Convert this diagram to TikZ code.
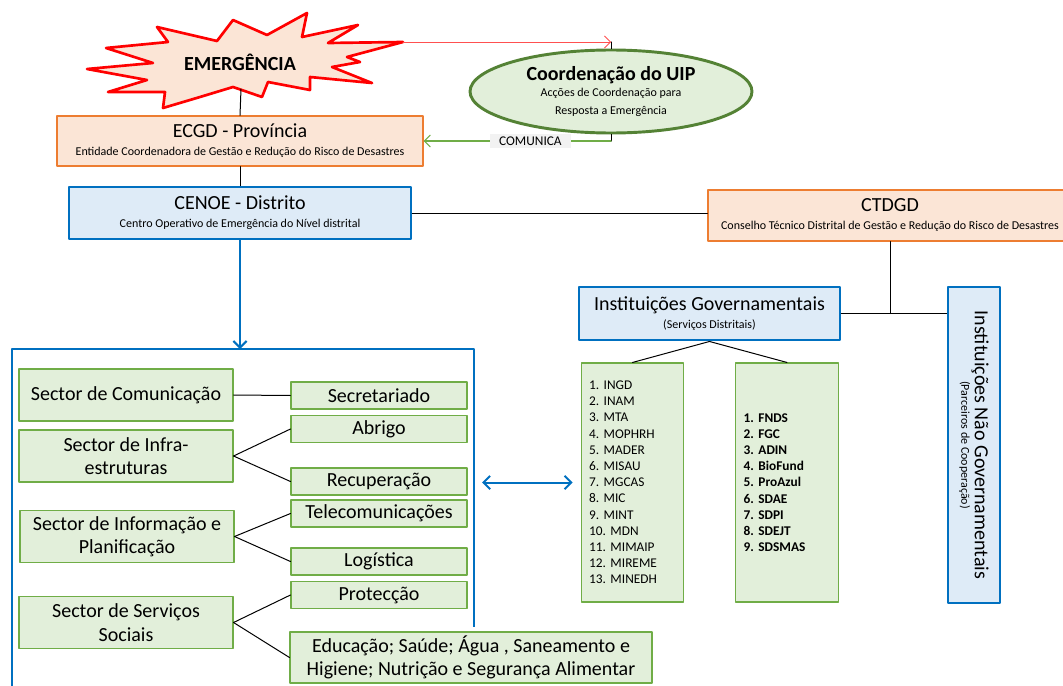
\documentclass[tikz,border=0pt]{standalone}
\usepackage{fontspec}
\setmainfont{Carlito}
\usepackage{xcolor}
\usepackage{tikz}
\usetikzlibrary{shapes,arrows.meta,calc}
\definecolor{peach}{HTML}{FBE5D6}
\definecolor{orangeline}{HTML}{ED7D31}
\definecolor{skyfill}{HTML}{DEEBF7}
\definecolor{blueline}{HTML}{0070C0}
\definecolor{leaf}{HTML}{E2EFDA}
\definecolor{leafline}{HTML}{70AD47}
\definecolor{darkleaf}{HTML}{548235}
\definecolor{lightred}{HTML}{FF5050}
\definecolor{labelgray}{HTML}{F2F2F2}
\frenchspacing
\newcommand{\bigtxt}{\fontsize{15}{18}\selectfont}
\newcommand{\smalltxt}{\fontsize{9}{11}\selectfont}
\tikzset{
  pbox/.style={draw=orangeline, fill=peach, line width=0.8pt, align=center, inner sep=0pt},
  bbox/.style={draw=blueline, fill=skyfill, line width=2.2pt, align=center, inner sep=0pt},
  gbox/.style={draw=leafline, fill=leaf, line width=0.8pt, align=center, inner sep=0pt,
    font=\fontsize{15}{17.5}\selectfont},
  sectorbox/.style={gbox, minimum width=160.5pt, minimum height=39pt},
  unitbox/.style={gbox, minimum width=132pt, minimum height=20.25pt},
  listbox/.style={draw=leafline, fill=leaf, line width=0.8pt, align=left, inner xsep=6pt,
    text width=65pt, minimum height=179.25pt, font=\fontsize{10}{12.15}\selectfont\frenchspacing},
  link/.style={draw=black, line width=0.75pt},
  bluearrow/.style={draw=blueline, line width=1.5pt, -{Straight Barb[length=5pt,width=10pt]}},
}
\begin{document}
\begin{tikzpicture}[line cap=round,line join=round,x=0.75pt,y=-0.75pt]
\clip (0,0) rectangle (1063,685);
\filldraw[draw=red, fill=peach, line width=2pt] (87,69) -- (153,63) -- (106,48) -- (168,42) -- (157,27) -- (217,41) -- (233,20) -- (267,35) -- (307,13) -- (302,37) -- (358,25) -- (328,43) -- (403,42) -- (347,57) -- (360,62) -- (332,67) -- (372,83) -- (310,77) -- (310,90) -- (268,82) -- (262,97) -- (233,87) -- (200,97) -- (163,108) -- (165,92) -- (108,92) -- (147,80) -- cycle;
\node[font=\bigtxt\bfseries] (emerg) at (240,62) {EMERGÊNCIA};
\coordinate (starbot) at (241,89);
\coordinate (startip) at (403,42);
\node[ellipse, draw=darkleaf, fill=leaf, line width=2.2pt, minimum width=211.5pt, minimum height=62.25pt, inner sep=0pt, align=center] (uip) at (611,91.5)
  {{\bigtxt\bfseries Coordenação do UIP}\\[0pt]{\smalltxt Acções de Coordenação para}\\[1pt]{\smalltxt Resposta a Emergência}};
\node[pbox, minimum width=274.5pt, minimum height=37.5pt] (ecgd) at (240,141)
  {{\bigtxt ECGD - Província}\\[1.5pt]{\smalltxt Entidade Coordenadora de Gestão e Redução do Risco de Desastres}};
\node[bbox, minimum width=256.5pt, minimum height=39pt] (cenoe) at (240,213)
  {{\bigtxt CENOE - Distrito}\\[1.5pt]{\smalltxt Centro Operativo de Emergência do Nível distrital}};
\node[pbox, minimum width=273pt, minimum height=38.25pt] (ctdgd) at (890,215.5)
  {{\bigtxt CTDGD}\\[1.5pt]{\smalltxt Conselho Técnico Distrital de Gestão e Redução do Risco de Desastres}};
\node[bbox, minimum width=195.75pt, minimum height=39.75pt] (ig) at (709.5,313.5)
  {{\bigtxt Instituições Governamentais}\\[1pt]{\smalltxt (Serviços Distritais)}};
\node[bbox, rotate=-90, minimum width=237pt, minimum height=39pt] (ingov) at (974,445)
  {{\bigtxt Instituições Não Governamentais}\\[-2pt]{\smalltxt (Parceiros de Cooperação)}};
\node[listbox] (govlist) at (632.5,482.5)
  {1. INGD\\2. INAM\\3. MTA\\4. MOPHRH\\5. MADER\\6. MISAU\\7. MGCAS\\8. MIC\\9. MINT\\10. MDN\\11. MIMAIP\\12. MIREME\\13. MINEDH};
\node[listbox, font=\fontsize{10}{12.15}\selectfont\bfseries\frenchspacing] (fundlist) at (787,482.5)
  {1. FNDS\\2. FGC\\3. ADIN\\4. BioFund\\5. ProAzul\\6. SDAE\\7. SDPI\\8. SDEJT\\9. SDSMAS};
\node[sectorbox] (scom) at (126,395) {Sector de Comunicação};
\node[sectorbox] (sinfra) at (126,456) {Sector de Infra-\\estruturas};
\node[sectorbox] (sinfo) at (127,536.5) {Sector de Informação e\\Planificação};
\node[sectorbox] (sserv) at (126,622.5) {Sector de Serviços\\Sociais};
\node[unitbox] (secr) at (379,395.5) {Secretariado};
\node[unitbox] (abrigo) at (379,429) {Abrigo};
\node[unitbox] (recup) at (379,481.5) {Recuperação};
\node[unitbox] (telecom) at (379,513.5) {Telecomunicações};
\node[unitbox] (logist) at (379,561.5) {Logística};
\node[unitbox] (protec) at (379,595) {Protecção};
\node[gbox, minimum width=271.5pt, minimum height=38.25pt] (educ) at (471,657.5)
  {Educação; Saúde; Água , Saneamento e\\Higiene; Nutrição e Segurança Alimentar};
\coordinate (frametop) at (240,349);
\coordinate (frameright) at (474,482.5);
\draw[draw=blueline, line width=2.2pt, line cap=butt] (12,700) -- (12,349) -- (474,349) -- (474,627);
\draw[link] (starbot) -- (ecgd.north);
\draw[draw=lightred, line width=0.6pt, -{Straight Barb[length=4.5pt,width=9pt]}] (startip) -- (startip -| uip.north);
\draw[link] (startip -| uip.north) -- (uip.north);
\draw[link] (uip.south) -- (uip.south |- ecgd.east);
\draw[draw=leafline, line width=0.8pt, -{Straight Barb[length=4.5pt,width=9pt]}] (uip.south |- ecgd.east) -- (ecgd.east)
  node[pos=0.43, fill=labelgray, inner xsep=7pt, inner ysep=2pt, font=\fontsize{10}{11}\selectfont] (comlabel) {COMUNICA};
\draw[link] (ecgd.south) -- (cenoe.north);
\draw[link] (cenoe.east) -- (cenoe.east -| ctdgd.west);
\draw[link] (ctdgd.south) -- (ctdgd.south |- ig.east);
\draw[link] (ig.east) -- (ig.east -| ingov.south);
\draw[link] (ig.south) -- (govlist.north);
\draw[link] (ig.south) -- (fundlist.north);
\draw[bluearrow] (cenoe.south) -- (cenoe.south |- frametop);
\draw[bluearrow, {Straight Barb[length=5pt,width=10pt]}-{Straight Barb[length=5pt,width=10pt]}] ([xshift=6pt]frameright) -- ([xshift=-6pt]govlist.west);
\draw[link] (scom.east) -- (secr.west);
\draw[link] (sinfra.east) -- (abrigo.west);
\draw[link] (sinfra.east) -- (recup.west);
\draw[link] (sinfo.east) -- (telecom.west);
\draw[link] (sinfo.east) -- (logist.west);
\draw[link] (sserv.east) -- (protec.west);
\draw[link] (sserv.east) -- (educ.west);
\end{tikzpicture}
\end{document}
